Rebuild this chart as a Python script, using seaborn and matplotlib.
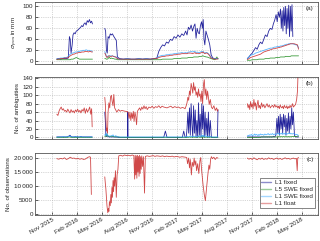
import pandas as pd
import numpy as np
import seaborn as sns
import matplotlib.pyplot as plt
import matplotlib.dates as mdates

nan = np.nan

# ---------------- panel (a): sigma pos in mm ----------------
a_dates = [
    "2015-11-19", "2015-11-26", "2015-12-03", "2015-12-10", "2015-12-17", "2015-12-24", "2015-12-31",
    "2016-01-04", "2016-01-07", "2016-01-10", "2016-01-14", "2016-01-17", "2016-01-21", "2016-01-25",
    "2016-01-29", "2016-02-02", "2016-02-06", "2016-02-10", "2016-02-14", "2016-02-18", "2016-02-22",
    "2016-02-26", "2016-03-01", "2016-03-05", "2016-03-09", "2016-03-13", "2016-03-17", "2016-03-21",
    "2016-03-25", "2016-03-28",
    "2016-05-12", "2016-05-15", "2016-05-18", "2016-05-21", "2016-05-24", "2016-05-28", "2016-06-01",
    "2016-06-05", "2016-06-09", "2016-06-13", "2016-06-18", "2016-06-23", "2016-06-27", "2016-07-05",
    "2016-07-19", "2016-08-02", "2016-08-16", "2016-08-30", "2016-09-13", "2016-09-27", "2016-10-11",
    "2016-10-25", "2016-11-08", "2016-11-18", "2016-11-25", "2016-12-02", "2016-12-09", "2016-12-16",
    "2016-12-23", "2016-12-30", "2017-01-06", "2017-01-13", "2017-01-20", "2017-01-27", "2017-02-03",
    "2017-02-10", "2017-02-17", "2017-02-24", "2017-03-03", "2017-03-08", "2017-03-13", "2017-03-18",
    "2017-03-23", "2017-03-28", "2017-04-02", "2017-04-06", "2017-04-10", "2017-04-14", "2017-04-18",
    "2017-04-22", "2017-04-26", "2017-04-30", "2017-05-03", "2017-05-06", "2017-05-09", "2017-05-12",
    "2017-05-16", "2017-05-20", "2017-05-25", "2017-05-30", "2017-06-04", "2017-06-10", "2017-06-18",
    "2017-06-25", "2017-06-29",
    "2017-10-14", "2017-10-20", "2017-10-26", "2017-11-01", "2017-11-07", "2017-11-13", "2017-11-19",
    "2017-11-25", "2017-12-01", "2017-12-07", "2017-12-13", "2017-12-19", "2017-12-25", "2017-12-31",
    "2018-01-06", "2018-01-12", "2018-01-17", "2018-01-22", "2018-01-27", "2018-01-31", "2018-02-04",
    "2018-02-08", "2018-02-12", "2018-02-15", "2018-02-18", "2018-02-21", "2018-02-24", "2018-02-27",
    "2018-03-02", "2018-03-05", "2018-03-08", "2018-03-11", "2018-03-14", "2018-03-17", "2018-03-20",
    "2018-03-23", "2018-03-26", "2018-03-29", "2018-04-03", "2018-04-09", "2018-04-15", "2018-04-19",
]
a_l1_fixed = [
    4, 5, 4, 5, 5, 5, 6, 45, 40, 15, 30, 48, 52, 50, 55, 56, 58, 60, 62, 65, 63, 68, 70, 66, 74, 71, 76, 70, 73, 68,
    60, 55, 20, 15, 45, 42, 50, 48, 50, 46, 42, 38, 8, 5, 4, 5, 4, 4, 5, 4, 5, 4, 5, 6, 18, 25, 30, 28, 35, 33,
    40, 38, 45, 42, 48, 44, 50, 47, 55, 48, 62, 58, 66, 55, 64, 68, 42, 60, 52, 50, 65, 72, 60, 76, 40, 30,
    55, 48, 40, 30, 12, 6, 5, 5, 5,
    5, 8, 12, 15, 20, 25, 22, 30, 35, 32, 40, 48, 45, 55, 60, 58, 68, 75, 85, 72, 90, 80, 95, 60, 92, 55,
    98, 65, 100, 50, 96, 60, 102, 45, 100, 55, 103, 45, nan, nan, nan, nan,
]
a_l5_swe = [
    3, 3, 3, 3, 3, 3, 3, 3, 3, 4, 4, 4, 5, 6, 7, 6, 5, 4, 4, 4, 4, 4, 4, 4, 4, 4, 4, 4, 4, 4,
    5, 5, 4, 4, 5, 8, 5, 6, 5, 5, 4, 4, 3, 3, 3, 3, 3, 3, 3, 3, 3, 3, 3, 3, 3, 3, 4, 4, 4, 4,
    4, 4, 5, 5, 5, 5, 6, 6, 6, 6, 7, 7, 7, 7, 8, 8, 8, 8, 8, 9, 9, 9, 10, 10, 9, 9,
    8, 8, 7, 6, 5, 4, 3, 8, 4,
    2, 2, 2, 3, 3, 3, 3, 4, 4, 4, 4, 5, 5, 5, 6, 6, 6, 6, 7, 7, 7, 7, 8, 8, 8, 8,
    8, 8, 9, 9, 9, 9, 9, 9, 9, 10, 10, 10, 10, 10, 10, 10,
]
a_l1_swe = [
    5, 5, 6, 6, 7, 7, 9, 12, 13, 14, 15, 15, 16, 17, 17, 17, 18, 18, 19, 19, 20, 20, 20, 21, 20, 20, 20, 19, 19, 18,
    18, 14, 9, 8, 10, 10, 10, 10, 10, 9, 9, 8, 5, 4, 4, 5, 4, 4, 5, 4, 5, 4, 5, 6, 9, 10, 11, 11, 12, 12,
    13, 13, 14, 14, 15, 15, 16, 15, 16, 15, 17, 17, 18, 17, 18, 18, 16, 17, 16, 16, 17, 18, 17, 18, 16, 15,
    16, 16, 14, 11, 7, 5, 5, 5, 5,
    5, 8, 11, 12, 13, 15, 16, 17, 18, 19, 20, 21, 22, 23, 24, 24, 25, 26, 26, 27, 27, 27, 28, 28, 28, 29,
    29, 30, 30, 31, 31, 31, 32, 32, 32, 32, 32, 32, 31, 30, 29, 24,
]
a_l1_float = [
    4, 4, 5, 5, 6, 6, 7, 9, 10, 11, 12, 13, 13, 14, 15, 15, 16, 16, 16, 17, 17, 17, 18, 18, 18, 17, 18, 18, 17, 17,
    15, 12, 8, 7, 9, 10, 9, 9, 10, 9, 8, 7, 5, 4, 4, 4, 4, 4, 4, 4, 4, 4, 5, 5, 7, 8, 9, 9, 10, 10,
    11, 11, 12, 12, 13, 13, 14, 14, 14, 14, 15, 15, 15, 14, 15, 16, 14, 15, 14, 14, 15, 16, 16, 17, 15, 14,
    15, 15, 13, 10, 6, 5, 4, 4, 5,
    3, 5, 7, 8, 9, 10, 11, 12, 13, 15, 17, 18, 19, 20, 21, 22, 23, 23, 24, 24, 25, 25, 26, 26, 27, 27,
    28, 28, 29, 29, 30, 30, 31, 31, 32, 32, 32, 32, 32, 31, 30, 22,
]

# ---------------- panel (b): number of ambiguities ----------------
b_dates = [
    "2015-11-19", "2015-11-23", "2015-11-27", "2015-12-01", "2015-12-05", "2015-12-09", "2015-12-13",
    "2015-12-17", "2015-12-21", "2015-12-25", "2015-12-29", "2016-01-02", "2016-01-06", "2016-01-10",
    "2016-01-14", "2016-01-18", "2016-01-22", "2016-01-26", "2016-01-30", "2016-02-03", "2016-02-07",
    "2016-02-11", "2016-02-15", "2016-02-19", "2016-02-23", "2016-02-27", "2016-03-02", "2016-03-06",
    "2016-03-10", "2016-03-14", "2016-03-18", "2016-03-22", "2016-03-25", "2016-03-27",
    "2016-05-12", "2016-05-14", "2016-05-16", "2016-05-18", "2016-05-20", "2016-05-22", "2016-05-24",
    "2016-05-27", "2016-05-30", "2016-06-02", "2016-06-05", "2016-06-08", "2016-06-11", "2016-06-14",
    "2016-06-17", "2016-06-21", "2016-06-25", "2016-07-01", "2016-07-07", "2016-07-13", "2016-07-19",
    "2016-07-25", "2016-08-03", "2016-08-04", "2016-08-05", "2016-08-09", "2016-08-12", "2016-08-15",
    "2016-08-18", "2016-08-21", "2016-08-24", "2016-08-27", "2016-08-30", "2016-09-02", "2016-09-05",
    "2016-09-08", "2016-09-12", "2016-09-16", "2016-09-20", "2016-09-24", "2016-09-28", "2016-10-02",
    "2016-10-06", "2016-10-10", "2016-10-14", "2016-10-20", "2016-10-26", "2016-11-01", "2016-11-07",
    "2016-11-13", "2016-11-19", "2016-11-25", "2016-12-01", "2016-12-07", "2016-12-13", "2016-12-19",
    "2016-12-25", "2017-01-01", "2017-01-08", "2017-01-15", "2017-01-22", "2017-01-29", "2017-02-05",
    "2017-02-12", "2017-02-19", "2017-02-24", "2017-03-01", "2017-03-05", "2017-03-08", "2017-03-11",
    "2017-03-14", "2017-03-17", "2017-03-20", "2017-03-23", "2017-03-26", "2017-03-29", "2017-04-01",
    "2017-04-04", "2017-04-07", "2017-04-10", "2017-04-13", "2017-04-16", "2017-04-19", "2017-04-22",
    "2017-04-25", "2017-04-28", "2017-05-01", "2017-05-04", "2017-05-07", "2017-05-10", "2017-05-13",
    "2017-05-16", "2017-05-19", "2017-05-22", "2017-05-25", "2017-05-28", "2017-06-01", "2017-06-05",
    "2017-06-09", "2017-06-14", "2017-06-19", "2017-06-24", "2017-06-27", "2017-06-29",
    "2017-10-14", "2017-10-17", "2017-10-20", "2017-10-23", "2017-10-26", "2017-10-29", "2017-11-01",
    "2017-11-04", "2017-11-07", "2017-11-10", "2017-11-13", "2017-11-16", "2017-11-19", "2017-11-22",
    "2017-11-25", "2017-11-28", "2017-12-01", "2017-12-05", "2017-12-09", "2017-12-13", "2017-12-17",
    "2017-12-21", "2017-12-25", "2017-12-29", "2018-01-02", "2018-01-06", "2018-01-10", "2018-01-14",
    "2018-01-18", "2018-01-22", "2018-01-26", "2018-01-30", "2018-02-02", "2018-02-05", "2018-02-08",
    "2018-02-11", "2018-02-14", "2018-02-17", "2018-02-20", "2018-02-23", "2018-02-26", "2018-03-01",
    "2018-03-04", "2018-03-07", "2018-03-10", "2018-03-13", "2018-03-16", "2018-03-19", "2018-03-22",
    "2018-03-25", "2018-03-28", "2018-03-31", "2018-04-04", "2018-04-08", "2018-04-12", "2018-04-15",
    "2018-04-17", "2018-04-19",
]
b_l1_fixed = [
    1, 1, 1, 1, 1, 1, 1, 1, 1, 1, 2, 3, 5, 2, 1, 1, 1, 2, 1, 1, 1, 1, 2, 1, 1, 1, 1, 1, 1, 1, 1, 1, 1, 1,
    60, 40, 5, 2, 3, 4, 2, 1, 1, 1, 1, 1, 1, 1, 1, 1, 1, 0, 0, 0, 0, 0, 0, 60, 0, 0, 0, 0, 0, 0, 0, 0, 0,
    0, 0, 0, 0, 0, 0, 0, 0, 0, 0, 0, 0, 0, 0, 0, 0, 0, 0, 0, 0, 0, 0, 15, 0, 0, 0, 0, 0, 0, 0, 0, 0, 15,
    0, 0, 20, 60, 10, 70, 5, 80, 30, 0, 75, 10, 65, 0, 40, 0, 82, 5, 55, 0, 80, 20, 75, 0, 60, 5, 45, 0,
    60, 0, 40, 0, 0, 0, 0, 0, 0, 65,
    1, 1, 1, 1, 1, 1, 1, 1, 1, 1, 1, 1, 1, 1, 1, 1, 1, 1, 1, 1, 1, 1, 1, 1, 1, 1, 1, 1, 2, 1, 5, 45, 10,
    50, 5, 55, 20, 48, 10, 55, 25, 52, 5, 45, 15, 58, 10, 50, 20, 70, 30, 60, 5, 1, 1, 1, 1, 1,
]
b_l5_swe = [
    0, 0, 0, 0, 0, 0, 0, 0, 0, 0, 0, 1, 1, 0, 0, 0, 0, 0, 0, 0, 0, 0, 0, 0, 0, 0, 0, 0, 0, 0, 0, 0, 0, 0,
    2, 3, 2, 5, 8, 4, 3, 2, 2, 2, 3, 2, 2, 2, 1, 1, 1, 1, 0, 0, 0, 0, 0, 0, 0, 0, 0, 0, 0, 0, 0, 0, 0,
    0, 0, 0, 0, 0, 0, 0, 0, 0, 0, 0, 0, 0, 0, 0, 0, 0, 0, 0, 0, 0, 0, 0, 0, 0, 0, 0, 0, 0, 0, 0, 0, 0,
    0, 0, 0, 0, 0, 1, 0, 1, 0, 0, 1, 0, 1, 0, 0, 0, 2, 0, 1, 0, 2, 0, 2, 0, 1, 0, 1, 0,
    1, 0, 1, 0, 0, 0, 0, 0, 0, 0,
    0, 0, 0, 0, 0, 0, 0, 0, 0, 0, 0, 0, 0, 0, 0, 0, 0, 1, 1, 1, 1, 1, 1, 1, 1, 1, 1, 1, 1, 1, 1, 1, 1,
    2, 1, 2, 1, 2, 1, 2, 1, 2, 1, 2, 1, 2, 1, 2, 1, 2, 2, 2, 2, 2, 2, 3, 3, 3,
]
b_l1_swe = [
    1, 1, 1, 1, 1, 1, 2, 1, 1, 1, 2, 2, 3, 2, 1, 1, 1, 2, 1, 1, 1, 1, 2, 1, 1, 1, 1, 1, 1, 1, 1, 1, 1, 1,
    5, 8, 4, 6, 10, 5, 4, 3, 3, 3, 4, 3, 6, 3, 2, 4, 2, 1, 1, 1, 1, 1, 1, 1, 1, 1, 1, 1, 1, 1, 1, 1, 1,
    1, 1, 1, 1, 1, 1, 1, 1, 1, 1, 1, 1, 1, 1, 1, 1, 1, 1, 1, 1, 1, 1, 1, 1, 1, 1, 1, 1, 1, 1, 1, 1, 1,
    1, 1, 2, 2, 1, 2, 1, 3, 2, 1, 3, 2, 3, 1, 2, 1, 4, 2, 3, 1, 6, 2, 5, 1, 4, 2, 3, 1,
    3, 1, 2, 1, 1, 1, 1, 1, 1, 1,
    3, 5, 4, 6, 5, 7, 4, 6, 5, 8, 5, 7, 6, 4, 7, 5, 8, 6, 7, 5, 8, 6, 7, 9, 6, 8, 7, 9, 6, 8, 7, 9, 8,
    10, 7, 9, 8, 10, 7, 9, 8, 10, 7, 9, 8, 10, 9, 10, 8, 9, 8, 9, 8, 7, 7, 6, 5, 5,
]
b_l1_float = [
    55, 52, 62, 68, 72, 65, 68, 62, 64, 60, 67, 62, 58, 66, 60, 63, 58, 65, 61, 67, 60, 64, 58, 66, 62, 70,
    57, 68, 60, 65, 72, 55, 68, 25,
    95, 80, 45, 15, 22, 10, 60, 82, 70, 96, 100, 85, 75, 102, 70, 65, 60, 66, 62, 64, 63, 62, 61, 60, 60,
    45, 60, 40, 58, 45, 62, 38, 60, 50, 30, 62, 66, 70, 64, 72, 67, 75, 68, 73, 66, 72, 70, 74, 69, 73, 71,
    75, 70, 74, 72, 71, 70, 72, 74, 70, 73, 71, 72, 69, 71, 70, 68, 75, 82, 95, 88, 110, 100, 128, 118, 105,
    130, 112, 120, 100, 108, 95, 115, 98, 103, 85, 110, 80, 125, 137, 100, 115, 90, 110, 95, 78, 90, 72,
    68, 75, 64, 70, 62, 66,
    80, 70, 78, 66, 85, 72, 80, 68, 90, 74, 82, 65, 78, 88, 70, 76, 68, 82, 72, 78, 70, 75, 80, 72, 77,
    70, 74, 76, 71, 78, 72, 75, 70, 74, 68, 77, 72, 70, 74, 68, 76, 72, 70, 75, 68, 73, 70, 76, 71, 74,
    80, 72, 75, 78, 90, 110, 150, 155,
]

# ---------------- panel (c): number of observations (L1 float) ----------------
c_dates = [
    "2015-11-19", "2015-11-26", "2015-12-03", "2015-12-10", "2015-12-17", "2015-12-24", "2015-12-31",
    "2016-01-07", "2016-01-14", "2016-01-21", "2016-01-28", "2016-02-04", "2016-02-11", "2016-02-18",
    "2016-02-25", "2016-03-03", "2016-03-10", "2016-03-17", "2016-03-21", "2016-03-24",
    "2016-05-12", "2016-05-14", "2016-05-16", "2016-05-18", "2016-05-20", "2016-05-23", "2016-05-25",
    "2016-05-27", "2016-05-29", "2016-06-01", "2016-06-03", "2016-06-05", "2016-06-07", "2016-06-09",
    "2016-06-11", "2016-06-13", "2016-06-15", "2016-06-17", "2016-06-20", "2016-06-23", "2016-06-26",
    "2016-06-29", "2016-07-02", "2016-07-09", "2016-07-16", "2016-07-23", "2016-07-30", "2016-08-06",
    "2016-08-13", "2016-08-20", "2016-08-26", "2016-08-29", "2016-08-31", "2016-09-02", "2016-09-04",
    "2016-09-06", "2016-09-08", "2016-09-10", "2016-09-12", "2016-09-14", "2016-09-16", "2016-09-18",
    "2016-09-20", "2016-09-22", "2016-09-24", "2016-09-27", "2016-09-30", "2016-10-04", "2016-10-07",
    "2016-10-14", "2016-10-21", "2016-10-28", "2016-11-04", "2016-11-11", "2016-11-18", "2016-11-25",
    "2016-12-02", "2016-12-09", "2016-12-16", "2016-12-23", "2016-12-30", "2017-01-06", "2017-01-13",
    "2017-01-20", "2017-01-27", "2017-02-03", "2017-02-10", "2017-02-17", "2017-02-24", "2017-03-03",
    "2017-03-07", "2017-03-10", "2017-03-14", "2017-03-17", "2017-03-20", "2017-03-24", "2017-03-27",
    "2017-03-31", "2017-04-03", "2017-04-06", "2017-04-09", "2017-04-12", "2017-04-16", "2017-04-20",
    "2017-04-24", "2017-04-27", "2017-04-30", "2017-05-03", "2017-05-06", "2017-05-10", "2017-05-14",
    "2017-05-18", "2017-05-21", "2017-05-24", "2017-05-27", "2017-05-30", "2017-06-02", "2017-06-05",
    "2017-06-09", "2017-06-14", "2017-06-19", "2017-06-24", "2017-06-29",
    "2017-10-14", "2017-10-20", "2017-10-26", "2017-11-01", "2017-11-07", "2017-11-13", "2017-11-19",
    "2017-11-25", "2017-12-01", "2017-12-07", "2017-12-13", "2017-12-19", "2017-12-25", "2017-12-31",
    "2018-01-06", "2018-01-12", "2018-01-18", "2018-01-24", "2018-01-30", "2018-02-05", "2018-02-11",
    "2018-02-17", "2018-02-23", "2018-03-01", "2018-03-07", "2018-03-13", "2018-03-19", "2018-03-25",
    "2018-03-31", "2018-04-06", "2018-04-11", "2018-04-14", "2018-04-16", "2018-04-19",
]
c_l1_float = [
    19800, 19600, 19900, 19700, 20100, 19500, 19800, 20300, 19900, 20000, 19700, 19900, 19600, 19800,
    19500, 19700, 20200, 20500, 20300, 7000,
    13300, 11000, 9000, 6000, 3000, 500, 2000, 1000, 4500, 3000, 7000, 4000, 9500, 6000, 12000, 8000,
    13000, 10000, 15500, 6000, 14000, 16000, 20800, 21000, 20700, 21100, 20900, 21000, 20800, 21100,
    20900, 12500, 21000, 14000, 20800, 12800, 21000, 15000, 20600, 13500, 21000, 14500, 20500, 16000,
    20800, 17000, 20500, 7500, 20600, 20800, 20600, 20700, 20900, 20600, 20800, 20700, 20600, 20800,
    20500, 20700, 20600, 20500, 20700, 20400, 20600, 20500, 20300, 20500, 20400, 20300, 20200, 18000,
    20000, 16500, 19500, 14000, 18500, 17000, 20000, 17500, 19000, 15500, 18000, 14500, 19000, 20200,
    16000, 13000, 10000, 7000, 4800, 9000, 12000, 15000, 17500, 16000, 19500, 20500, 19800, 20300,
    19500, 20200, 20000,
    20000, 19600, 19900, 19500, 20100, 19700, 19400, 19900, 19600, 20000, 19500, 19800, 19600, 20100,
    19700, 19900, 19500, 19800, 20000, 19600, 19900, 19500, 19800, 20100, 19700, 19900, 19600, 19800,
    20000, 19700, 19900, 15500, 20000, 20200,
]

series_names = ["L1 fixed", "L5 SWE fixed", "L1 SWE fixed", "L1 float"]
series_colors = ["#00008c", "#1e8c1e", "#38a8ff", "#c82828"]
month_ticks = ["2015-11-01", "2016-02-01", "2016-05-01", "2016-08-01", "2016-11-01", "2017-02-01",
               "2017-05-01", "2017-08-01", "2017-11-01", "2018-02-01", "2018-05-01"]
c_tick_vals = [0, 5000, 10000, 15000, 20000]
c_tick_labels = ["0", "5000", "10\u2009000", "15\u2009000", "20\u2009000"]

sns.set_style("ticks")
plt.rcParams["font.family"] = ["Liberation Sans", "DejaVu Sans"]
plt.rcParams["font.size"] = 4.5


def make_frame(dates, cols):
    df = pd.DataFrame(cols)
    df["date"] = pd.to_datetime(dates)
    # a new segment starts wherever the receiver data has a long gap
    df["seg"] = (df["date"].diff() > pd.Timedelta(days=20)).cumsum()
    return df


def draw(ax, df, names, with_label=False):
    for name in names:
        color = series_colors[series_names.index(name)]
        first = True
        for _, sub in df.groupby("seg"):
            sub = sub.dropna(subset=[name])
            if len(sub) == 0:
                continue
            sns.lineplot(data=sub, x="date", y=name, ax=ax, color=color, lw=0.6, alpha=0.85,
                         estimator=None, legend=False,
                         label=name if (with_label and first) else None)
            first = False


fig = plt.figure(figsize=(3.2, 2.41), dpi=100)
left, width = 0.109, 0.884
ax_a = fig.add_axes([left, 0.734, width, 0.258])
ax_b = fig.add_axes([left, 0.423, width, 0.257])
ax_c = fig.add_axes([left, 0.108, width, 0.257])

df_a = make_frame(a_dates, {"L1 fixed": a_l1_fixed, "L5 SWE fixed": a_l5_swe,
                            "L1 SWE fixed": a_l1_swe, "L1 float": a_l1_float})
df_b = make_frame(b_dates, {"L1 fixed": b_l1_fixed, "L5 SWE fixed": b_l5_swe,
                            "L1 SWE fixed": b_l1_swe, "L1 float": b_l1_float})
df_c = make_frame(c_dates, {"L1 float": c_l1_float})

draw(ax_a, df_a, series_names)
draw(ax_b, df_b, series_names, with_label=True)
draw(ax_c, df_c, ["L1 float"])

ax_a.set_ylim(-5, 108)
ax_a.set_yticks([0, 20, 40, 60, 80, 100])
ax_a.set_ylabel(r"$\sigma_{\,pos}$ in mm", labelpad=2)
ax_b.set_ylim(-4, 143)
ax_b.set_yticks([0, 20, 40, 60, 80, 100, 120, 140])
ax_b.set_ylabel("No. of ambiguities", labelpad=2)
ax_c.set_ylim(-300, 21800)
ax_c.set_yticks(c_tick_vals)
ax_c.set_yticklabels(c_tick_labels)
ax_c.set_ylabel("No. of observations", labelpad=2)

ticks = pd.to_datetime(month_ticks)
for ax, tag in zip([ax_a, ax_b, ax_c], ["(a)", "(b)", "(c)"]):
    ax.set_xlim(pd.Timestamp("2015-08-31"), pd.Timestamp("2018-06-28"))
    ax.set_xticks(ticks)
    ax.set_xlabel("")
    ax.grid(True, ls=":", lw=0.5, color="#b0b0b0")
    ax.tick_params(direction="in", length=2, width=0.5, colors="#222222", pad=1.5)
    for sp in ax.spines.values():
        sp.set_visible(True)
        sp.set_linewidth(0.6)
        sp.set_color("#555555")
    ax.text(0.985, 0.93, tag, transform=ax.transAxes, ha="right", va="top")

ax_a.set_xticklabels([])
ax_b.set_xticklabels([])
ax_c.xaxis.set_major_formatter(mdates.DateFormatter("%b %Y"))
plt.setp(ax_c.get_xticklabels(), rotation=30, ha="right", rotation_mode="anchor")

handles, labels = ax_b.get_legend_handles_labels()
leg = ax_c.legend(handles, labels, loc="lower right", fontsize=4.5, frameon=True, fancybox=False,
                  edgecolor="#555555", framealpha=1, borderpad=0.3, labelspacing=0.25,
                  handlelength=1.6, handletextpad=0.6, borderaxespad=0,
                  bbox_to_anchor=(0.99, 0.11))
leg.get_frame().set_linewidth(0.5)
for h in leg.legend_handles:
    h.set_alpha(0.45)
    h.set_linewidth(1.0)

fig.savefig("out.png", dpi=100)
